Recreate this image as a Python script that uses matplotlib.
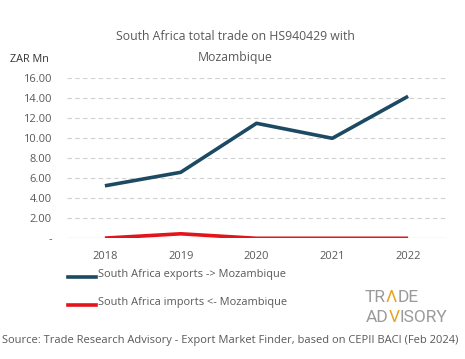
import matplotlib
matplotlib.use("Agg")
import matplotlib.pyplot as plt

years = ["2018", "2019", "2020", "2021", "2022"]
exports = [5.25, 6.6, 11.5, 10.0, 14.2]
imports = [0.02, 0.45, 0.0, 0.0, 0.0]
ytick_vals = [0, 2, 4, 6, 8, 10, 12, 14, 16]
ytick_labels = ["-", "2.00", "4.00", "6.00", "8.00", "10.00", "12.00", "14.00", "16.00"]

FONT = "Open Sans"
plt.rcParams['font.family'] = [FONT, 'DejaVu Sans']
TXT = "#595959"

fig = plt.figure(figsize=(4.65, 3.59), dpi=100)
ax = fig.add_axes([67/465, 1-238.3/359, (446-67)/465, (238.3-78.3)/359])

x = list(range(len(years)))
ax.plot(x, exports, color="#1C4A62", lw=2.6, solid_capstyle="butt", label="South Africa exports -> Mozambique")
ax.plot(x, imports, color="#E3141B", lw=2.6, solid_capstyle="butt", label="South Africa imports <- Mozambique")

ax.set_xlim(-0.5, len(years)-0.5)
ax.set_ylim(0, 16)
ax.set_yticks(ytick_vals)
ax.set_yticklabels(ytick_labels)
ax.set_xticks(x)
ax.set_xticklabels(years)
for v in ytick_vals[1:]:
    ax.axhline(v, color="#D0D0D0", lw=0.8, ls=(0, (4, 3)), zorder=0)
ax.axhline(0, color="#D0D0D0", lw=0.9, zorder=0)
for s in ax.spines.values():
    s.set_visible(False)
ax.tick_params(length=0, labelsize=8, colors=TXT)
ax.tick_params(axis='y', pad=11)
ax.tick_params(axis='x', pad=9)

fig.text(0.506, 1-36/359, "South Africa total trade on HS940429 with", ha="center", va="center", fontsize=8.8, color=TXT)
fig.text(0.506, 1-58/359, "Mozambique", ha="center", va="center", fontsize=8.8, color=TXT)
fig.text(10/465, 1-60/359, "ZAR Mn", ha="left", va="center", fontsize=7.8, color="#333333")

# legend
for yy, c, lab in [(277, "#1C4A62", "South Africa exports -> Mozambique"),
                   (305, "#E3141B", "South Africa imports <- Mozambique")]:
    fig.add_artist(plt.Line2D([68/465, 96/465], [1-yy/359, 1-yy/359], color=c, lw=2.6))
    fig.text(98/465, 1-(yy-2)/359, lab, ha="left", va="center", fontsize=7.9, color=TXT)

fig.text(2/465, 1-341/359, "Source: Trade Research Advisory - Export Market Finder, based on CEPII BACI (Feb 2024)",
         ha="left", va="center", fontsize=8.0, color=TXT)

# logo
logo_gray = "#9A9A9A"
logo_orange = "#E8A21E"
LFS = 12.5
t1 = fig.text(365/465, 1-297/359, "TR", ha="left", va="center", fontsize=LFS, color=logo_gray, family="Roboto")
fig.canvas.draw()
r = fig.canvas.get_renderer()
def after(t, s, col):
    bb = t.get_window_extent(r)
    return fig.text(bb.x1/465, t.get_position()[1], s, ha="left", va="center", fontsize=LFS, color=col, family="Roboto")
t2 = after(t1, "Λ", logo_orange)
t3 = after(t2, "DE", logo_gray)
u1 = fig.text(366/465, 1-317/359, "AD", ha="left", va="center", fontsize=LFS, color=logo_gray, family="Roboto")
fig.canvas.draw()
u2 = after(u1, "V", logo_orange)
fig.canvas.draw()
u3 = after(u2, "ISORY", logo_gray)

fig.savefig("out.png", dpi=100)
